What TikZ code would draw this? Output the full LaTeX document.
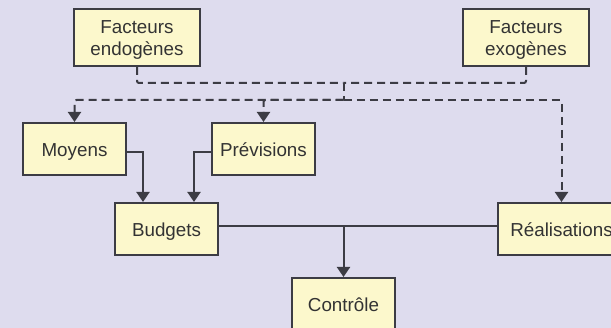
\documentclass[tikz,border=0pt]{standalone}
\usepackage{fontspec}
\setmainfont{Liberation Sans}
\usetikzlibrary{arrows.meta}
\definecolor{fond}{RGB}{222,220,238}
\definecolor{boite}{RGB}{252,248,204}
\definecolor{trait}{RGB}{60,60,68}
\tikzset{
    bloc/.style={draw=trait, fill=boite, line width=2pt, minimum width=103pt,
        minimum height=52pt, inner xsep=4pt, align=center, text=black!80,
        text height=19pt, text depth=4pt,
        font=\fontsize{18.8}{22.5}\selectfont},
    facteur/.style={bloc, text height=, text depth=, minimum width=126pt, minimum height=57pt},
    lien/.style={draw=trait, line width=2pt, -{Triangle[width=13pt,length=10pt]}},
    tirets/.style={lien, dash pattern=on 8pt off 5pt, rounded corners=2pt}
}
\begin{document}
\begin{tikzpicture}[x=1pt, y=-1pt]
    \useasboundingbox (0,0) rectangle (611,328);
    \clip (0,0) rectangle (611,328);
    \fill[fond] (0,0) rectangle (611,328);
    \node[facteur] (endo) at (137,37.5) {\rule{0pt}{18pt}Facteurs\\endogènes};
    \node[facteur] (exo) at (526,37.5) {\rule{0pt}{18pt}Facteurs\\exogènes};
    \node[bloc] (moyens) at (74.5,149) {Moyens};
    \node[bloc] (previsions) at (263.5,149) {Prévisions};
    \node[bloc] (budgets) at (166.5,229) {Budgets};
    \node[bloc, minimum width=127pt] (realis) at (561.5,229) {Réalisations};
    \node[bloc] (controle) at (343.5,304) {Contrôle};
    \coordinate (reunion) at (343.5,83);
    \coordinate (partage) at (343.5,100);
    % facteurs vers les trois blocs
    \draw[tirets, -] (endo.south) |- (reunion);
    \draw[tirets, -] (exo.south) |- (reunion);
    \draw[tirets, -] (reunion) -- (partage);
    \draw[tirets] (partage) -| (moyens.north);
    \draw[tirets] (partage) -| (previsions.north);
    \draw[tirets] (partage) -| (realis.north);
    % budgets
    \draw[lien] ([yshift=-3pt]moyens.east) -| ([xshift=-23.5pt]budgets.north);
    \draw[lien] ([yshift=-3pt]previsions.west) -| ([xshift=27.5pt]budgets.north);
    \draw[lien, -] ([yshift=3pt]budgets.east) -- ([yshift=3pt]realis.west);
    \draw[lien] ([yshift=3pt]budgets.east -| controle.north) -- (controle.north);
\end{tikzpicture}
\end{document}
